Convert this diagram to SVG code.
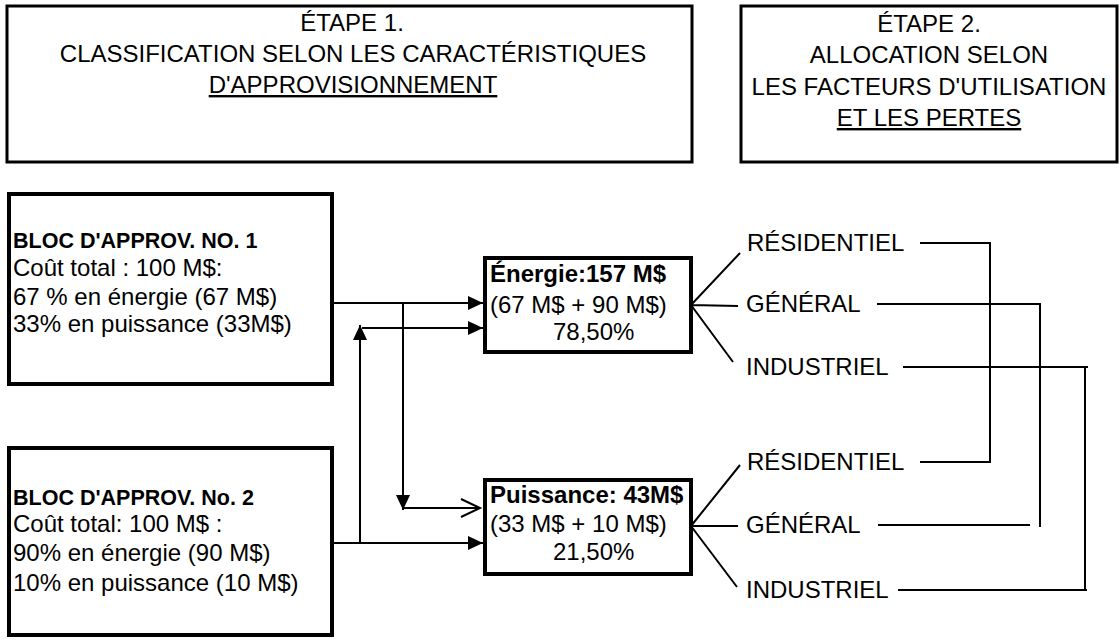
<svg xmlns="http://www.w3.org/2000/svg" width="1120" height="640" viewBox="0 0 1120 640">
<style>
text{font-family:"Liberation Sans",Arial,sans-serif;font-size:24px;fill:#000}
.c{text-anchor:middle}
.b{font-weight:bold}
.sb{font-weight:bold;font-size:21.5px}
.u{text-decoration:underline}
.hdr{fill:#fff;stroke:#000;stroke-width:3}
.box{fill:#fff;stroke:#000;stroke-width:4}
.ln{fill:none;stroke:#000;stroke-width:2}
</style>
<defs>
<marker id="fa" markerUnits="userSpaceOnUse" markerWidth="15" markerHeight="14" refX="15" refY="7" orient="auto" overflow="visible"><path d="M0,0 L15,7 L0,14 z" fill="#000"/></marker>
<marker id="oa" markerUnits="userSpaceOnUse" markerWidth="20" markerHeight="20" refX="19" refY="10" orient="auto" overflow="visible"><path d="M0,1 L19,10 L0,19" fill="none" stroke="#000" stroke-width="2"/></marker>
</defs>
<rect width="1120" height="640" fill="#fff"/>
<g id="etape1">
<rect class="hdr" x="7" y="6" width="685" height="156"/>
<text class="c" x="352" y="31">ÉTAPE 1.</text>
<text class="c" x="353" y="62">CLASSIFICATION SELON LES CARACTÉRISTIQUES</text>
<text class="c u" x="353" y="93">D'APPROVISIONNEMENT</text>
</g>
<g id="etape2">
<rect class="hdr" x="741" y="6" width="376" height="156"/>
<text class="c" x="929" y="32">ÉTAPE 2.</text>
<text class="c" x="929" y="63">ALLOCATION SELON</text>
<text class="c" x="929" y="95">LES FACTEURS D'UTILISATION</text>
<text class="c u" x="929" y="126">ET LES PERTES</text>
</g>
<g id="bloc1">
<rect class="box" x="9" y="194" width="323" height="190"/>
<text class="sb" x="13" y="248">BLOC D'APPROV. NO. 1</text>
<text x="13" y="276">Coût total : 100 M$:</text>
<text x="13" y="305">67 % en énergie (67 M$)</text>
<text x="13" y="332">33% en puissance (33M$)</text>
</g>
<g id="bloc2">
<rect class="box" x="9" y="448" width="323" height="187"/>
<text class="sb" x="13" y="505">BLOC D'APPROV. No. 2</text>
<text x="13" y="532">Coût total: 100 M$ :</text>
<text x="13" y="561">90% en énergie (90 M$)</text>
<text x="13" y="591">10% en puissance (10 M$)</text>
</g>
<g id="energie">
<rect class="box" x="485" y="258" width="206" height="94"/>
<text class="b" x="490" y="282">Énergie:157 M$</text>
<text x="490" y="313">(67 M$ + 90 M$)</text>
<text x="553" y="340">78,50%</text>
</g>
<g id="puissance">
<rect class="box" x="485" y="480" width="206" height="94"/>
<text class="b" x="490" y="503">Puissance: 43M$</text>
<text x="490" y="532">(33 M$ + 10 M$)</text>
<text x="553" y="560">21,50%</text>
</g>
<g id="cat-energie">
<text x="747" y="251">RÉSIDENTIEL</text>
<text x="746" y="312">GÉNÉRAL</text>
<text x="746" y="375">INDUSTRIEL</text>
</g>
<g id="cat-puissance">
<text x="747" y="470">RÉSIDENTIEL</text>
<text x="746" y="533">GÉNÉRAL</text>
<text x="746" y="598">INDUSTRIEL</text>
</g>
<g id="connectors" class="ln">
<path class="ln" d="M332,303 H483" marker-end="url(#fa)"/>
<path class="ln" d="M403,303 V510" marker-end="url(#fa)"/>
<path class="ln" d="M403,508 H480" marker-end="url(#oa)"/>
<path class="ln" d="M332,543 H483" marker-end="url(#fa)"/>
<path class="ln" d="M360,543 V325" marker-end="url(#fa)"/>
<path class="ln" d="M362,328 H483" marker-end="url(#fa)"/>
<path class="ln" d="M691,305 L740,253 M691,305 L738,306 M691,305 L733,362"/>
<path class="ln" d="M691,526 L740,465 M691,526 L738,526 M691,526 L737,587"/>
<path class="ln" d="M920,243 H990 V462 H920"/>
<path class="ln" d="M877,304 H1040 V527 M878,525 H1030"/>
<path class="ln" d="M903,367 H1088 M1085,367 V590 M898,590 H1087"/>
</g>
</svg>
